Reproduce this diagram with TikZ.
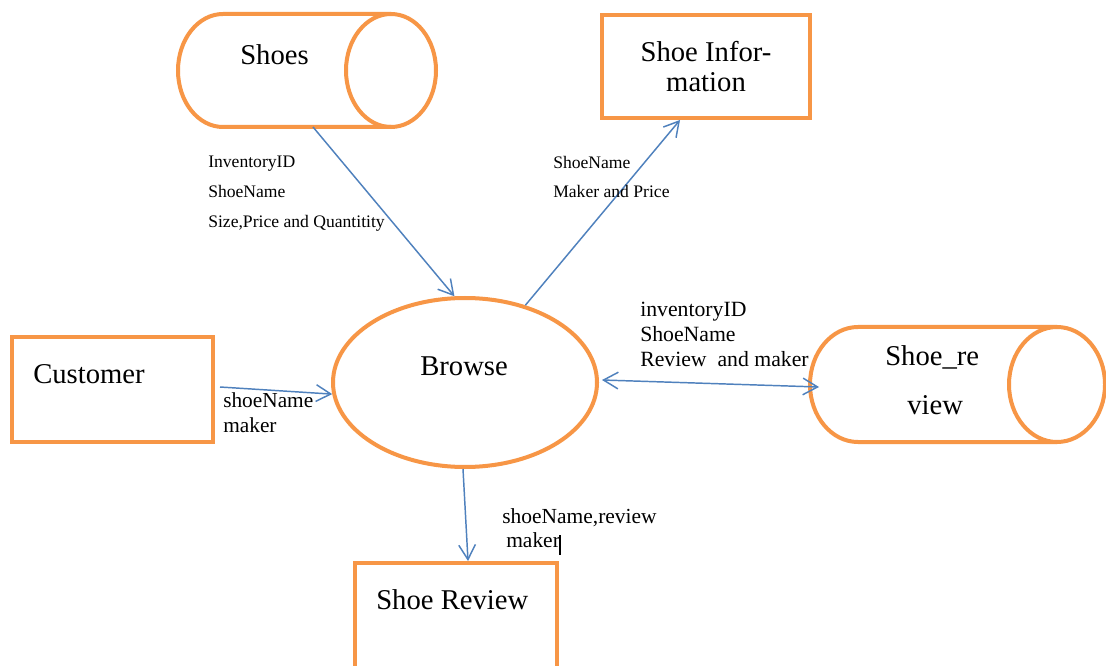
\documentclass[tikz,border=0pt]{standalone}
\usepackage{fontspec}
\setmainfont{Liberation Serif}
\usetikzlibrary{arrows.meta,shapes.geometric,calc}
\definecolor{dfdorange}{HTML}{F79646}
\definecolor{dfdblue}{HTML}{4F81BD}
\begin{document}
\begin{tikzpicture}[x=0.75pt,y=0.75pt,
  stroke/.style={draw=dfdorange,line width=3pt},
  boxnode/.style={stroke,rectangle,inner sep=0pt},
  holder/.style={rectangle,inner sep=0pt,outer sep=0pt},
  tip/.tip={Straight Barb[length=11pt,width=12.5pt]},
  flow/.style={draw=dfdblue,line width=1.1pt,-tip},
  flowboth/.style={draw=dfdblue,line width=1.1pt,tip-tip},
  big/.style={font=\fontsize{21.5}{22.5}\selectfont,inner sep=0pt},
  lbl/.style={inner sep=0pt,align=left,anchor=north west}
]
\useasboundingbox (0,0) rectangle (1106,-666);
\fill[white] (0,0) rectangle (1106,-666);
\clip (0,0) rectangle (1106,-666);

% data store: Shoes
\node[holder,minimum width=193.5pt,minimum height=84.75pt] (shoes) at (307,-70.5) {};
\draw[stroke] (391,-14) -- (223,-14)
  arc[start angle=90,end angle=270,x radius=33.75pt,y radius=42.375pt] -- (391,-127);
\draw[stroke] (391,-70.5) ellipse[x radius=33.75pt,y radius=42.375pt];
\node[big,anchor=base west] (shoesT) at (240,-65) {Shoes};

% data store: Shoe_review
\node[holder,minimum width=221.25pt,minimum height=86.25pt] (shoereview) at (957.5,-384.5) {};
\draw[stroke] (1057,-327) -- (858,-327)
  arc[start angle=90,end angle=270,x radius=36pt,y radius=43.125pt] -- (1057,-442);
\draw[stroke] (1057,-384.5) ellipse[x radius=36pt,y radius=43.125pt];
\node[big,anchor=base west] (srT1) at (885,-366) {Shoe\_re};
\node[big,anchor=base west] (srT2) at (907,-414) {view};

% external entities and outputs
\node[boxnode,minimum width=156pt,minimum height=77.25pt,align=center,big]
  (shoeinfo) at (706,-66.5) {Shoe Infor-\\mation};
\node[boxnode,minimum width=150.75pt,minimum height=78.75pt] (customer) at (112.5,-389.5) {};
\node[big,anchor=base west] (custT) at (33,-383) {Customer};
\node[boxnode,minimum width=151.5pt,minimum height=102.75pt] (reviewbox) at (456,-631.5) {};
\node[big,anchor=base west] (reviewT) at (376,-609) {Shoe Review};

% process
\node[stroke,ellipse,minimum width=198pt,minimum height=126.75pt,inner sep=0pt]
  (browse) at (465,-382.5) {};
\node[big,anchor=base west] (browseT) at (420,-375) {Browse};

% data flows
\draw[flow] ($(shoes.south)+(6,0)$) -- (browse.97);
\draw[flow] (browse.52) -- ($(shoeinfo.south)+(-26,0)$);
\draw[flow] ($(customer.east)+(5,2.5)$) -- (browse.185);
\draw[flowboth] ($(browse.east)+(3,2.5)$) -- ($(shoereview.west)+(9,-2.5)$);
\draw[flow] ($(browse.south)+(-2,0)$) -- ($(reviewbox.north)+(12,0)$);

% flow labels
\node[lbl,font=\fontsize{13.2}{22.5}\selectfont] (l1) at (208,-155.3)
  {InventoryID\\ShoeName\\Size,Price and Quantitity};
\node[lbl,font=\fontsize{13.2}{21.75}\selectfont] (l2) at (553,-156)
  {ShoeName\\Maker and Price};
\node[lbl,font=\fontsize{16.3}{18.75}\selectfont] (l3) at (640,-302)
  {inventoryID\\ShoeName\\Review~ and maker};
\node[lbl,font=\fontsize{16}{18.75}\selectfont] (l4) at (223,-392.5)
  {shoeName\\maker};
\node[lbl,font=\fontsize{16.1}{18}\selectfont] (l5) at (502,-508)
  {shoeName,review\\\hspace{3pt}maker};
\draw[line width=2pt] (560,-535) -- (560,-555);
\end{tikzpicture}
\end{document}
